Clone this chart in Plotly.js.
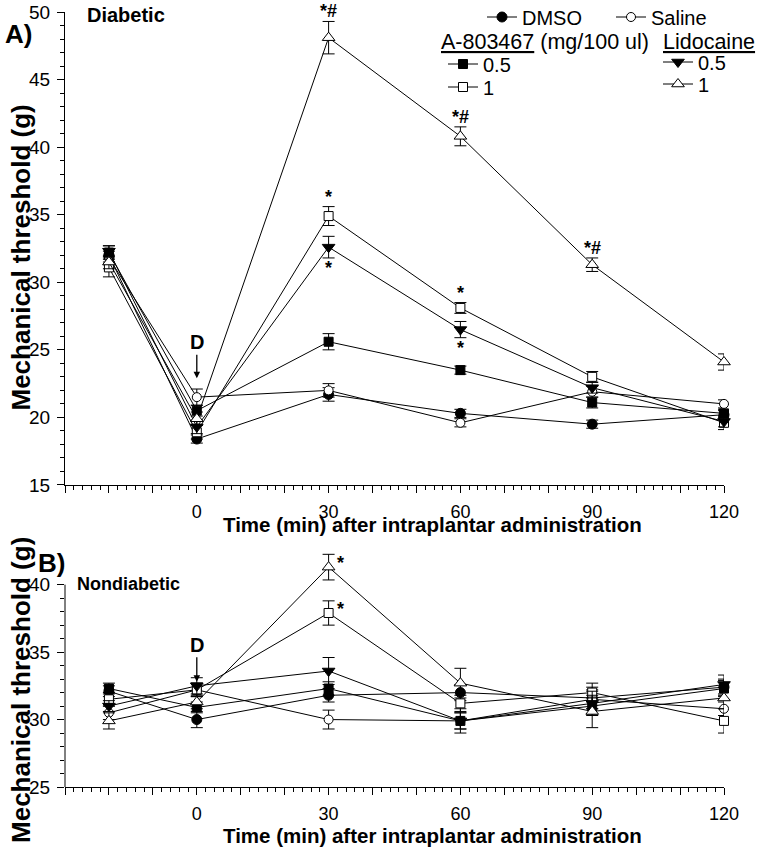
<!DOCTYPE html>
<html>
<head>
<meta charset="utf-8">
<script src="https://cdn.plot.ly/plotly-3.0.1.min.js"></script>
<style>html,body{margin:0;padding:0;background:#fff;}#chart{width:761px;height:854px;}</style>
</head>
<body>
<div id="chart"></div>
<script>
// ---- data ----
const times = [-20, 0, 30, 60, 90, 120];
const xTickVals = [-30, -20, -10, 0, 10, 20, 30, 40, 50, 60, 70, 80, 90, 100, 110, 120];
const xTickText = ['', '', '', '0', '', '', '30', '', '', '60', '', '', '90', '', '', '120'];
const yTickValsA = [15, 20, 25, 30, 35, 40, 45, 50];
const yTickValsB = [25, 30, 35, 40];

// Panel A: Diabetic
const diabDMSO = [32.0, 18.4, 21.7, 20.3, 19.5, 20.2];
const diabDMSOErr = [0.5, 0.3, 0.5, 0.3, 0.3, 0.3];
const diabSaline = [31.8, 21.5, 22.0, 19.6, 21.9, 21.0];
const diabSalineErr = [0.5, 0.6, 0.5, 0.3, 0.4, 0.3];
const diabA05 = [32.2, 20.5, 25.6, 23.5, 21.1, 20.3];
const diabA05Err = [0.5, 0.4, 0.6, 0.3, 0.4, 0.3];
const diabA1 = [31.1, 18.9, 34.9, 28.1, 23.0, 19.6];
const diabA1Err = [0.7, 0.5, 0.7, 0.4, 0.4, 0.5];
const diabL05 = [32.3, 19.3, 32.6, 26.5, 22.2, 19.7];
const diabL05Err = [0.4, 0.5, 0.8, 0.6, 0.4, 0.4];
const diabL1 = [31.5, 19.9, 48.1, 40.8, 31.3, 24.1];
const diabL1Err = [0.5, 0.5, 1.2, 0.7, 0.5, 0.6];

// Panel B: Nondiabetic
const nondDMSO = [32.1, 30.0, 31.8, 32.0, 31.6, 32.4];
const nondDMSOErr = [0.4, 0.6, 0.5, 0.6, 0.8, 0.6];
const nondSaline = [30.5, 32.2, 30.0, 29.9, 31.5, 30.8];
const nondSalineErr = [0.5, 0.5, 0.7, 0.6, 0.7, 0.5];
const nondA05 = [32.3, 30.9, 32.3, 29.9, 31.0, 32.3];
const nondA05Err = [0.4, 0.4, 0.5, 0.6, 0.6, 0.6];
const nondA1 = [31.5, 32.2, 37.9, 31.2, 32.0, 29.9];
const nondA1Err = [0.5, 0.5, 0.9, 0.6, 0.7, 0.9];
const nondL05 = [31.0, 32.5, 33.6, 29.9, 31.2, 32.6];
const nondL05Err = [0.4, 0.6, 1.0, 0.9, 0.9, 0.7];
const nondL1 = [29.9, 31.3, 41.3, 32.7, 30.6, 31.6];
const nondL1Err = [0.6, 0.5, 0.95, 1.1, 1.2, 0.8];

// significance marks: [series key, time index, text, placement]
const sigA = [['L1', 2, '*#', 'above'], ['A1', 2, '*', 'above'], ['L05', 2, '*', 'below'],
              ['L1', 3, '*#', 'above'], ['A1', 3, '*', 'above'], ['L05', 3, '*', 'below'],
              ['L1', 4, '*#', 'above']];
const sigB = [['L1', 2, '*', 'right'], ['A1', 2, '*', 'right']];

// ---- styling ----
const FONT = '"Liberation Sans", Arial, sans-serif';
const styles = {
  DMSO:   {name: 'DMSO',   symbol: 'circle',        fill: 'black', size: 10, legend: 'legend'},
  Saline: {name: 'Saline', symbol: 'circle',        fill: 'white', size: 9,  legend: 'legend2'},
  A05:    {name: '0.5',    symbol: 'square',        fill: 'black', size: 9,  legend: 'legend3'},
  A1:     {name: '1',      symbol: 'square',        fill: 'white', size: 9,  legend: 'legend4'},
  L05:    {name: '0.5',    symbol: 'triangle-down', fill: 'black', size: 11, legend: 'legend5'},
  L1:     {name: '1',      symbol: 'triangle-up',   fill: 'white', size: 11, legend: 'legend6'}
};
const panelA = {DMSO: [diabDMSO, diabDMSOErr], Saline: [diabSaline, diabSalineErr], A05: [diabA05, diabA05Err],
                A1: [diabA1, diabA1Err], L05: [diabL05, diabL05Err], L1: [diabL1, diabL1Err]};
const panelB = {DMSO: [nondDMSO, nondDMSOErr], Saline: [nondSaline, nondSalineErr], A05: [nondA05, nondA05Err],
                A1: [nondA1, nondA1Err], L05: [nondL05, nondL05Err], L1: [nondL1, nondL1Err]};

const traces = [];
function addPanel(panel, xa, ya, showLegend) {
  Object.keys(styles).forEach(k => {
    const s = styles[k];
    traces.push({
      type: 'scatter', mode: 'lines+markers', x: times, y: panel[k][0],
      xaxis: xa, yaxis: ya, name: s.name, legend: s.legend, showlegend: showLegend,
      cliponaxis: false,
      line: {color: 'black', width: 1},
      marker: {symbol: s.symbol, size: s.size, color: s.fill, line: {color: 'black', width: 1}},
      error_y: {type: 'data', array: panel[k][1], visible: true, color: 'black', thickness: 1, width: 6}
    });
  });
}
addPanel(panelA, 'x', 'y', true);
addPanel(panelB, 'x2', 'y2', false);

const annotations = [];
function addSig(list, panel, xa, ya) {
  list.forEach(([k, i, txt, pos]) => {
    const v = panel[k][0][i], e = panel[k][1][i];
    const a = {xref: xa, yref: ya, x: times[i], showarrow: false, text: '<b>' + txt + '</b>',
               xanchor: 'center', font: {family: FONT, size: 18, color: 'black'}};
    if (pos === 'above') { a.y = v + e; a.yanchor = 'bottom'; a.yshift = -2; }
    else if (pos === 'below') { a.y = v - e; a.yanchor = 'top'; a.yshift = 2; }
    else { a.y = v; a.xanchor = 'left'; a.xshift = 6; a.yanchor = 'middle'; a.yshift = 4; }
    annotations.push(a);
  });
}
addSig(sigA, panelA, 'x', 'y');
addSig(sigB, panelB, 'x2', 'y2');

// dosing arrows
annotations.push({xref: 'x', yref: 'y', x: 0, y: 22.9, text: '<b>D</b>', showarrow: true, ax: 0, ay: -36,
  arrowhead: 2, arrowsize: 1, arrowwidth: 1.3, arrowcolor: 'black', font: {family: FONT, size: 20, color: 'black'}});
annotations.push({xref: 'x2', yref: 'y2', x: 0, y: 32.8, text: '<b>D</b>', showarrow: true, ax: 0, ay: -37,
  arrowhead: 2, arrowsize: 1, arrowwidth: 1.3, arrowcolor: 'black', font: {family: FONT, size: 20, color: 'black'}});

// panel labels, titles and legend headings
const txt = (x, y, text, size, opts) => Object.assign({xref: 'paper', yref: 'paper', x, y, text, showarrow: false,
  xanchor: 'center', yanchor: 'middle', font: {family: FONT, size, color: 'black'}}, opts || {});
annotations.push(txt(-0.0713, 0.9716, '<b>A)</b>', 26));
annotations.push(txt(-0.0212, 0.289, '<b>B)</b>', 26));
annotations.push(txt(0.0303, 0.9961, '<b>Diabetic</b>', 20, {xanchor: 'left'}));
annotations.push(txt(0.0152, 0.262, '<b>Nondiabetic</b>', 18, {xanchor: 'left'}));
annotations.push(txt(-0.067, 0.683, '<b>Mechanical threshold (g)</b>', 26, {textangle: -90}));
annotations.push(txt(-0.067, 0.125, '<b>Mechanical threshold (g)</b>', 26, {textangle: -90}));
annotations.push(txt(0.557, 0.3381, '<b>Time (min) after intraplantar administration</b>', 20.5));
annotations.push(txt(0.557, -0.0632, '<b>Time (min) after intraplantar administration</b>', 20.5));
annotations.push(txt(0.568, 0.9617, '<u>A-803467</u> (mg/100 ul)', 21.5, {xanchor: 'left'}));
annotations.push(txt(0.905, 0.9617, '<u>Lidocaine</u>', 21.5, {xanchor: 'left'}));

const xAxisBase = {
  range: [-30, 120], showgrid: false, zeroline: false, showline: true, linecolor: 'black', linewidth: 1,
  tickmode: 'array', tickvals: xTickVals, ticktext: xTickText, ticks: 'outside', ticklen: 7, tickcolor: 'black',
  tickfont: {family: FONT, size: 18, color: 'black'}, ticklabelstandoff: 3,
  minor: {tickmode: 'linear', tick0: 0, dtick: 2, ticks: 'outside', ticklen: 4, tickcolor: 'black'}
};
const yAxisBase = {
  showgrid: false, zeroline: false, linecolor: 'black', linewidth: 1,
  tickmode: 'array', ticks: 'outside', ticklen: 7, tickcolor: 'black',
  tickfont: {family: FONT, size: 19, color: 'black'}, ticklabelstandoff: 3
};
const minorB = [];
for (let v = 26; v < 40; v++) if (v % 5 !== 0) minorB.push(v);

const legendFont = {family: FONT, size: 20, color: 'black'};
const leg = (px, py) => ({xref: 'container', yref: 'container', x: px / 761, y: 1 - py / 854,
  xanchor: 'left', yanchor: 'middle', orientation: 'v', bgcolor: 'rgba(0,0,0,0)', font: legendFont});

const layout = {
  width: 761, height: 854,
  margin: {l: 65, r: 37, t: 12, b: 67, autoexpand: false},
  paper_bgcolor: 'white', plot_bgcolor: 'white',
  font: {family: FONT, color: 'black'},
  xaxis: Object.assign({}, xAxisBase, {anchor: 'y'}),
  xaxis2: Object.assign({}, xAxisBase, {anchor: 'y2'}),
  yaxis: Object.assign({}, yAxisBase, {domain: [0.3897, 1], range: [15, 50], anchor: 'x', showline: true,
    tickvals: yTickValsA, minor: {tickmode: 'linear', tick0: 15, dtick: 1, ticks: 'outside', ticklen: 4, tickcolor: 'black'}}),
  yaxis2: Object.assign({}, yAxisBase, {domain: [0, 0.3133], range: [25, 43], anchor: 'x2', showline: false,
    tickvals: yTickValsB, minor: {tickmode: 'array', tickvals: minorB, ticks: 'outside', ticklen: 4, tickcolor: 'black'}}),
  shapes: [{type: 'line', xref: 'paper', yref: 'y2', x0: 0, x1: 0, y0: 25, y1: 40, line: {color: 'black', width: 1}}],
  annotations: annotations,
  legend: leg(482, 17),
  legend2: leg(611, 17),
  legend3: leg(443, 64),
  legend4: leg(443, 87),
  legend5: leg(658, 62),
  legend6: leg(658, 84)
};

Plotly.newPlot('chart', traces, layout, {staticPlot: true, displayModeBar: false});
</script>
</body>
</html>
